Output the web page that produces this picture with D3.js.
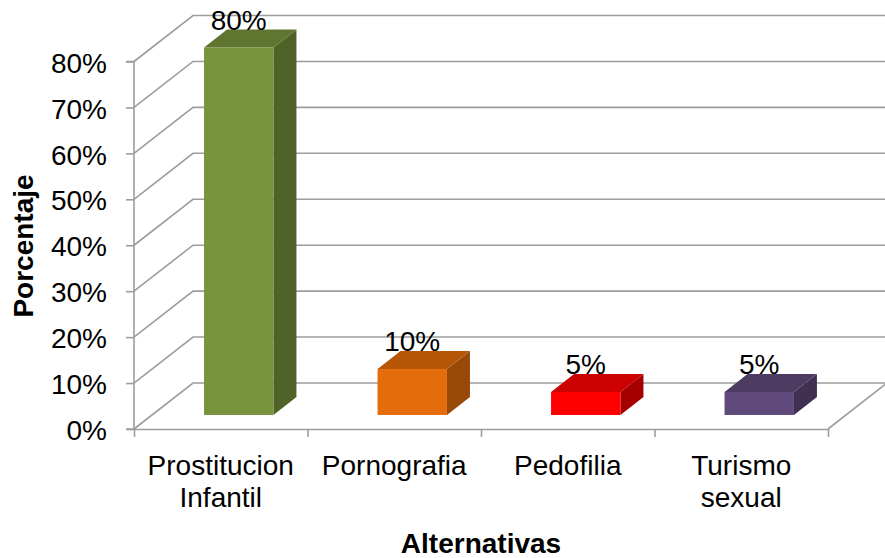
<!DOCTYPE html>
<html>
<head>
<meta charset="utf-8">
<script src="https://cdn.jsdelivr.net/npm/d3@7"></script>
<style>
  body { margin: 0; background: #fff; }
  text { font-family: "Liberation Sans", Arial, sans-serif; fill: #000; }
</style>
</head>
<body>
<script>
// chart data
var categories = ["Prostitucion Infantil", "Pornografia", "Pedofilia", "Turismo sexual"];
var values = [0.80, 0.10, 0.05, 0.05];
var yTicks = [0, 0.1, 0.2, 0.3, 0.4, 0.5, 0.6, 0.7, 0.8];
var frontColors = ["#77933c", "#e46c0a", "#ff0000", "#604a7b"];
var topColors = ["#5f7530", "#b65708", "#cc0000", "#4d3b62"];
var sideColors = ["#4f6228", "#984807", "#a50000", "#403152"];

var svgWidth = 885;
var svgHeight = 558;

// plot area (front plane)
var plotLeft = 134, plotRight = 828, plotBottom = 429, plotTop = 61.5;
// depth offset of the back wall
var depthX = 59, depthY = -46;
// bar sits between these depth fractions
var dFront = 0.305, dBack = 0.695;
var fontSize = 28;

var svg = d3.select("body")
  .append("svg")
  .attr("width", svgWidth)
  .attr("height", svgHeight);

var xScale = d3.scaleBand()
  .domain(categories)
  .range([plotLeft, plotRight])
  .padding(0);

var yScale = d3.scaleLinear()
  .domain([0, 0.8])
  .range([plotBottom, plotTop]);

var grid = svg.append("g")
  .attr("fill", "none")
  .attr("stroke", "#9d9d9d")
  .attr("stroke-width", 1.6);

// side wall diagonals + back wall gridlines
yTicks.forEach(function(t) {
  var y = yScale(t);
  grid.append("path")
    .attr("d", `M${plotLeft},${y} L${plotLeft + depthX},${y + depthY} L${plotRight + depthX},${y + depthY}`);
});

// floor right edge
grid.append("path")
  .attr("d", `M${plotRight},${plotBottom} L${plotRight + depthX},${plotBottom + depthY}`);

// y axis
var leftAxis = d3.axisLeft(yScale)
  .tickValues(yTicks)
  .tickSize(8)
  .tickPadding(19)
  .tickFormat(d3.format(".0%"));

var yAxis = svg.append("g")
  .attr("transform", `translate(${plotLeft}, 0)`)
  .call(leftAxis);

yAxis.selectAll("path, line")
  .attr("stroke", "#9d9d9d")
  .attr("stroke-width", 1.6);
yAxis.select(".domain").attr("d", `M-8,${plotTop}H0V${plotBottom}H-8`);
yAxis.selectAll("text")
  .attr("font-size", fontSize)
  .attr("dy", "0.38em")
  .attr("font-family", "Liberation Sans, Arial, sans-serif")
  .attr("fill", "#000");

// x axis: ticks on category boundaries
var edgeScale = d3.scaleLinear().domain([0, categories.length]).range([plotLeft, plotRight]);
var bottomAxis = d3.axisBottom(edgeScale)
  .tickValues(d3.range(categories.length + 1))
  .tickSize(8)
  .tickSizeOuter(0)
  .tickFormat("");

var xAxis = svg.append("g")
  .attr("transform", `translate(0, ${plotBottom})`)
  .call(bottomAxis);

xAxis.selectAll("path, line")
  .attr("stroke", "#9d9d9d")
  .attr("stroke-width", 1.6);

// category labels
var catLabels = svg.append("g")
  .selectAll("text")
  .data(categories)
  .enter()
  .append("text")
  .attr("text-anchor", "middle")
  .attr("font-size", fontSize)
  .attr("x", d => xScale(d) + xScale.bandwidth() / 2)
  .attr("y", 475);

catLabels.each(function(d) {
  var words = d.split(" ");
  var el = d3.select(this);
  words.forEach(function(w, i) {
    el.append("tspan")
      .attr("x", xScale(d) + xScale.bandwidth() / 2)
      .attr("dy", i === 0 ? 0 : 32)
      .text(w);
  });
});

// 3D bars
var barW = xScale.bandwidth() * 0.4;
var bars = svg.append("g")
  .selectAll("g")
  .data(values)
  .enter()
  .append("g");

function corner(i, depth) {
  var cx = xScale(categories[i]) + xScale.bandwidth() / 2 + depthX * depth;
  return { x0: cx - barW / 2, x1: cx + barW / 2, dy: depthY * depth };
}

bars.each(function(v, i) {
  var g = d3.select(this);
  var f = corner(i, dFront), b = corner(i, dBack);
  var y0 = yScale(0), y1 = yScale(v);
  // side
  g.append("path")
    .attr("fill", sideColors[i])
    .attr("d", `M${f.x1},${y0 + f.dy} L${b.x1},${y0 + b.dy} L${b.x1},${y1 + b.dy} L${f.x1},${y1 + f.dy}Z`);
  // top
  g.append("path")
    .attr("fill", topColors[i])
    .attr("d", `M${f.x0},${y1 + f.dy} L${f.x1},${y1 + f.dy} L${b.x1},${y1 + b.dy} L${b.x0},${y1 + b.dy}Z`);
  // front
  g.append("rect")
    .attr("fill", frontColors[i])
    .attr("x", f.x0)
    .attr("y", y1 + f.dy)
    .attr("width", barW)
    .attr("height", y0 - y1);
  // value label
  g.append("text")
    .attr("text-anchor", "middle")
    .attr("font-size", fontSize)
    .attr("x", (f.x0 + f.x1) / 2)
    .attr("y", y1 + b.dy)
    .text(d3.format(".0%")(v));
});

// axis titles
svg.append("text")
  .attr("text-anchor", "middle")
  .attr("font-size", fontSize)
  .attr("font-weight", "bold")
  .attr("x", (plotLeft + plotRight) / 2)
  .attr("y", 553)
  .text("Alternativas");

svg.append("text")
  .attr("text-anchor", "middle")
  .attr("font-size", fontSize)
  .attr("font-weight", "bold")
  .attr("transform", "translate(33, 246) rotate(-90)")
  .text("Porcentaje");
</script>
</body>
</html>
